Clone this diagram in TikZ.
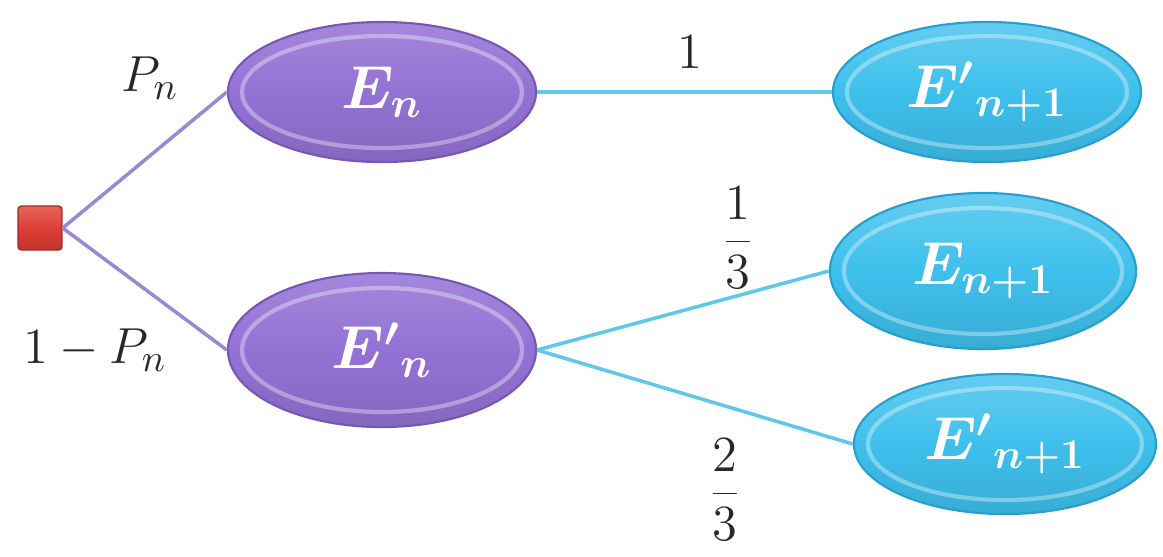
\documentclass[tikz,border=0pt]{standalone}
\usetikzlibrary{shapes.geometric}
\definecolor{purpA}{RGB}{148,114,212}
\definecolor{purpB}{RGB}{118,88,180}
\definecolor{purpL}{RGB}{155,135,210}
\definecolor{cyanA}{RGB}{62,192,236}
\definecolor{cyanB}{RGB}{38,158,208}
\definecolor{cyanL}{RGB}{95,200,232}
\definecolor{redA}{RGB}{222,62,52}
\definecolor{redB}{RGB}{170,40,35}
\definecolor{labc}{RGB}{40,40,40}
\tikzset{
  evt/.style={ellipse, inner sep=0pt, text=white, font=\fontsize{18}{20}\selectfont\boldmath,
    line width=0.6pt},
  pev/.style={evt, draw=purpB, top color=purpA!85!white, bottom color=purpA!90!black, middle color=purpA},
  cev/.style={evt, draw=cyanB, top color=cyanA!80!white, bottom color=cyanA!90!black, middle color=cyanA},
  plink/.style={draw=purpL, line width=1pt},
  clink/.style={draw=cyanL, line width=1pt},
  lab/.style={text=labc, font=\fontsize{15}{18}\selectfont},
  rim/.style={draw=white, draw opacity=0.35, line width=1.2pt}
}
\begin{document}
\begin{tikzpicture}[x=0.01cm,y=-0.01cm]
\useasboundingbox (0,0) rectangle (1163,556);
% root square
\node[draw=redB, rounded corners=1pt, minimum size=0.44cm, inner sep=0pt,
  top color=redA!80!white, bottom color=redA!85!black, middle color=redA, line width=0.4pt] (root) at (40,228) {};
% ellipses
\node[pev, minimum width=3.08cm, minimum height=1.40cm] (En) at (382,92) {$E_n$};
\node[pev, minimum width=3.08cm, minimum height=1.54cm] (Epn) at (382,350) {${E'}_{n}$};
\node[cev, minimum width=3.08cm, minimum height=1.40cm] (Ep1) at (987,92) {${E'}_{n+1}$};
\node[cev, minimum width=3.06cm, minimum height=1.56cm] (E1) at (983,271) {$E_{n+1}$};
\node[cev, minimum width=3.02cm, minimum height=1.40cm, font=\fontsize{16.5}{19}\selectfont\boldmath] (Ep2) at (1005,444) {${E'}_{n+1}$};
% inner rims
\draw[rim] (En.center) ellipse (140 and 56);
\draw[rim] (Epn.center) ellipse (140 and 62);
\draw[rim] (Ep1.center) ellipse (140 and 56);
\draw[rim] (E1.center) ellipse (139 and 63);
\draw[rim] (Ep2.center) ellipse (137 and 56);
% connectors
\draw[plink] (root.east) -- (En.west);
\draw[plink] (root.east) -- (Epn.west);
\draw[clink] (En.east) -- (Ep1.west);
\draw[clink] (Epn.east) -- (E1.west);
\draw[clink] (Epn.east) -- (Ep2.west);
% labels
\node[lab] (lP) at (150,78) {$P_n$};
\node[lab] (lQ) at (95,350) {$1-P_n$};
\node[lab] (l1) at (690,52) {$1$};
\node[lab] (l13) at (738,238) {$\displaystyle\frac{1}{3}$};
\node[lab] (l23) at (725,490) {$\displaystyle\frac{2}{3}$};
\end{tikzpicture}
\end{document}
